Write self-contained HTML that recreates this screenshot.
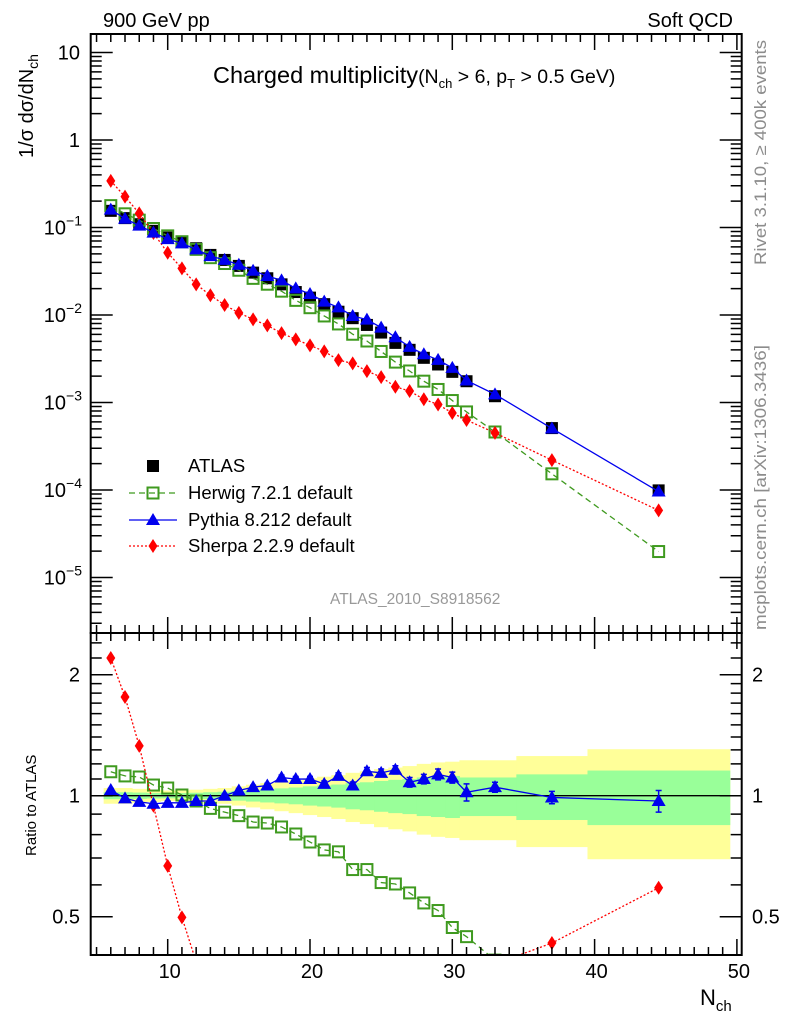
<!DOCTYPE html>
<html><head><meta charset="utf-8"><style>
html,body{margin:0;padding:0;background:#fff;width:786px;height:1024px;overflow:hidden}
svg{display:block;font-family:"Liberation Sans",sans-serif}
</style></head><body>
<svg id="chart" width="786" height="1024" viewBox="0 0 786 1024" xmlns="http://www.w3.org/2000/svg">
<defs>
<clipPath id="clipMain"><rect x="90.7" y="34" width="651" height="599"/></clipPath>
<clipPath id="clipRatio"><rect x="90.7" y="633" width="651" height="322"/></clipPath>
</defs>
<g id="bands" clip-path="url(#clipRatio)"></g>
<g id="marksMain" clip-path="url(#clipMain)"></g>
<g id="marksRatio" clip-path="url(#clipRatio)"></g>
<g id="axes"></g>
<text x="103" y="27" font-size="20">900 GeV pp</text>
<text x="733" y="27" font-size="20" text-anchor="end">Soft QCD</text>
<text x="213" y="83" font-size="23.5">Charged multiplicity<tspan font-size="19.5">(N</tspan><tspan font-size="13" dy="5">ch</tspan><tspan font-size="19.5" dy="-5"> &gt; 6, p</tspan><tspan font-size="13" dy="5">T</tspan><tspan font-size="19.5" dy="-5"> &gt; 0.5 GeV)</tspan></text>
<text transform="translate(33,158) rotate(-90)" font-size="20">1/σ dσ/dN<tspan font-size="14" dy="5">ch</tspan></text>
<text transform="translate(36,856) rotate(-90)" font-size="15">Ratio to ATLAS</text>
<text x="700" y="1005" font-size="22">N<tspan font-size="15" dy="6">ch</tspan></text>
<text transform="translate(766,265) rotate(-90)" font-size="17" fill="#8c8c8c" textLength="225" lengthAdjust="spacingAndGlyphs">Rivet 3.1.10, ≥ 400k events</text>
<text transform="translate(766,630) rotate(-90)" font-size="17" fill="#8c8c8c" textLength="285" lengthAdjust="spacingAndGlyphs">mcplots.cern.ch [arXiv:1306.3436]</text>
<text x="330" y="604" font-size="15.5" fill="#999">ATLAS_2010_S8918562</text>
<g id="legend"></g>
</svg>
<script>
const nch = [6,7,8,9,10,11,12,13,14,15,16,17,18,19,20,21,22,23,24,25,26,27,28,29,30,31,33,37,44.5];
const binLo = [5.5,6.5,7.5,8.5,9.5,10.5,11.5,12.5,13.5,14.5,15.5,16.5,17.5,18.5,19.5,20.5,21.5,22.5,23.5,24.5,25.5,26.5,27.5,28.5,29.5,30.5,31.5,34.5,39.5];
const binHi = [6.5,7.5,8.5,9.5,10.5,11.5,12.5,13.5,14.5,15.5,16.5,17.5,18.5,19.5,20.5,21.5,22.5,23.5,24.5,25.5,26.5,27.5,28.5,29.5,30.5,31.5,34.5,39.5,49.5];
const atlas = [0.155,0.128,0.109,0.0916,0.0768,0.0685,0.058,0.0486,0.0426,0.0364,0.0305,0.0263,0.0224,0.0183,0.0158,0.0133,0.0109,0.0092,0.0077,0.0063,0.0048,0.0040,0.00324,0.00272,0.00224,0.00175,0.00118,0.00051,0.000099];
const errTotal = [0.045,0.045,0.04,0.035,0.03,0.03,0.035,0.04,0.045,0.055,0.065,0.075,0.085,0.095,0.105,0.115,0.125,0.14,0.15,0.165,0.175,0.185,0.2,0.21,0.215,0.225,0.225,0.255,0.305];
const errStat = [0.02,0.02,0.018,0.016,0.015,0.015,0.017,0.02,0.023,0.028,0.033,0.038,0.043,0.048,0.055,0.06,0.066,0.075,0.08,0.088,0.095,0.1,0.11,0.115,0.12,0.11,0.11,0.13,0.155];
const herwigRatio = [1.147,1.12,1.113,1.063,1.045,1.004,0.97,0.93,0.91,0.892,0.86,0.855,0.836,0.803,0.767,0.733,0.725,0.655,0.655,0.608,0.603,0.573,0.541,0.518,0.47,0.446,0.39,0.3,0.2];
const pythiaRatio = [1.033,0.985,0.965,0.955,0.96,0.96,0.97,0.97,1.0,1.03,1.05,1.06,1.11,1.10,1.10,1.07,1.12,1.06,1.15,1.14,1.16,1.08,1.10,1.13,1.11,1.02,1.05,0.99,0.97];
const pythiaErr = [0.01,0.01,0.01,0.01,0.01,0.01,0.01,0.01,0.01,0.012,0.012,0.014,0.015,0.016,0.017,0.018,0.02,0.022,0.025,0.025,0.027,0.03,0.03,0.035,0.035,0.05,0.03,0.035,0.06];
const sherpaRatio = [2.2,1.76,1.33,0.944,0.669,0.498,0.386,0.346,0.305,0.291,0.292,0.289,0.277,0.288,0.285,0.289,0.28,0.304,0.297,0.31,0.315,0.338,0.336,0.349,0.339,0.36,0.381,0.43,0.59];
const yMainTicks = ["10","1","10^-1","10^-2","10^-3","10^-4","10^-5"];
const xTicks = [10,20,30,40,50];
const ratioTicks = [0.5,1,2];

const NS="http://www.w3.org/2000/svg";
function X(v){return 167.7+(v-10)*14.23;}
function YM(v){return 52.5-87.5*Math.log10(v/10);}
function YR(r){return 795.7-121*Math.log2(r);}
function mk(tag,attrs,parent){const e=document.createElementNS(NS,tag);for(const k in attrs)e.setAttribute(k,attrs[k]);parent.appendChild(e);return e;}
const bands=document.getElementById('bands'),gm=document.getElementById('marksMain'),gr=document.getElementById('marksRatio'),ax=document.getElementById('axes'),lg=document.getElementById('legend');

nch.forEach((n,i)=>{
  let r=mk('rect',{x:X(binLo[i]),y:YR(1+errTotal[i]),width:X(binHi[i])-X(binLo[i])+0.5,height:YR(1-errTotal[i])-YR(1+errTotal[i]),fill:'#ffff99'},bands);
  
  
});
nch.forEach((n,i)=>{
  let r=mk('rect',{x:X(binLo[i]),y:YR(1+errStat[i]),width:X(binHi[i])-X(binLo[i])+0.5,height:YR(1-errStat[i])-YR(1+errStat[i]),fill:'#99ff99'},bands);
  
  
});
let l1=mk('line',{x1:90.7,x2:741.7,y1:YR(1),y2:YR(1),stroke:'#000','stroke-width':1.3},gr);



function marker(type,cx,cy,color,parent,name){
  let e;
  if(type==='sq') e=mk('rect',{x:cx-6,y:cy-6,width:12,height:12,fill:'#000'},parent);
  else if(type==='osq') e=mk('rect',{x:cx-5.5,y:cy-5.5,width:11,height:11,fill:'none',stroke:color,'stroke-width':2},parent);
  else if(type==='tri') e=mk('polygon',{points:`${cx},${cy-7} ${cx+7},${cy+5} ${cx-7},${cy+5}`,fill:color},parent);
  else e=mk('polygon',{points:`${cx},${cy-7} ${cx+4.5},${cy} ${cx},${cy+7} ${cx-4.5},${cy}`,fill:color},parent);
  
  
  return e;
}
const series=[
 {name:'herwig',ratio:herwigRatio,color:'#3f9a1f',dash:'6,4',type:'osq',w:1.3},
 {name:'sherpa',ratio:sherpaRatio,color:'#ff0000',dash:'2,2',type:'dia',w:1.3},
 {name:'pythia',ratio:pythiaRatio,color:'#0000ee',dash:'',type:'tri',w:1.3}
];
nch.forEach((n,i)=>marker('sq',X(n),YM(atlas[i]),'#000',gm,'atlas-point'));
series.forEach(s=>{
  const pm=nch.map((n,i)=>X(n)+','+YM(atlas[i]*s.ratio[i])).join(' ');
  const pr=nch.map((n,i)=>X(n)+','+YR(s.ratio[i])).join(' ');
  let a=mk('polyline',{points:pm,fill:'none',stroke:s.color,'stroke-width':s.w,'stroke-dasharray':s.dash},gm);
  
  
  let b=mk('polyline',{points:pr,fill:'none',stroke:s.color,'stroke-width':s.w,'stroke-dasharray':s.dash},gr);
  
  
  nch.forEach((n,i)=>{
    marker(s.type,X(n),YM(atlas[i]*s.ratio[i]),s.color,gm,s.name+'-point');
    if(s.name==='pythia'){
      let eb=mk('path',{d:`M${X(n)},${YR(s.ratio[i]+pythiaErr[i])}V${YR(s.ratio[i]-pythiaErr[i])}M${X(n)-3},${YR(s.ratio[i]+pythiaErr[i])}h6M${X(n)-3},${YR(s.ratio[i]-pythiaErr[i])}h6`,stroke:s.color,'stroke-width':1.5,fill:'none'},gr);
      
      
    }
    marker(s.type,X(n),YR(s.ratio[i]),s.color,gr,s.name+'-ratio-point');
  });
});

[[34,633],[633,955]].forEach(([t,b])=>{
  let f=mk('rect',{x:90.7,y:t,width:651,height:b-t,fill:'none',stroke:'#000','stroke-width':2},ax);
  
  
});
let tk='';
for(let v=5;v<=50;v++){
  const x=X(v),L=(v%10===0)?16:8;
  tk+=`M${x},633v${-L}M${x},34v${L}M${x},955v${-L}M${x},633v${L}`;
}
for(let d=-6;d<=1;d++){for(let m=1;m<=9;m++){const v=m*Math.pow(10,d),y=YM(v);if(y<34||y>633)continue;const L=m===1?22:11;tk+=`M90.7,${y}h${L}M741.7,${y}h${-L}`;}}
[0.4,0.5,0.6,0.7,0.8,0.9,1,1.1,1.2,1.3,1.4,1.5,1.6,1.7,1.8,1.9,2,2.2,2.4].forEach(r=>{const y=YR(r);if(y<633||y>955)return;const L=(r===0.5||r===1||r===2)?22:11;tk+=`M90.7,${y}h${L}M741.7,${y}h${-L}`;});
let tp=mk('path',{d:tk,stroke:'#000','stroke-width':1.5,fill:'none'},ax);


xTicks.forEach(v=>{
  let t=mk('text',{x:X(v)+2,y:978,'font-size':20,'text-anchor':'middle'},ax);t.textContent=v;
  
  
});
yMainTicks.forEach((lab,i)=>{
  const y=YM(Math.pow(10,1-i));
  let t=mk('text',{x:80,y:y+7,'font-size':20,'text-anchor':'end'},ax);
  if(lab.indexOf('^')>0){const p=lab.split('^');
    t.appendChild(document.createTextNode(p[0]));
    const s=mk('tspan',{dy:-9,'font-size':14},t);s.textContent=p[1].replace('-','−');
    t.setAttribute('x',82);}
  else t.textContent=lab;
  
  
});
ratioTicks.forEach(r=>{
  [[80,'end'],[752,'start']].forEach(([x,a])=>{
    let t=mk('text',{x:x,y:YR(r)+7,'font-size':20,'text-anchor':a},ax);t.textContent=r;
    
    
  });
});
const legLabels=['ATLAS','Herwig 7.2.1 default','Pythia 8.212 default','Sherpa 2.2.9 default'];
const legY=[466,493,520,546];
legLabels.forEach((lab,i)=>{
  const y=legY[i];
  if(i>0){const s=series[[0,0,2,1][i]];
    let ln=mk('line',{x1:129,x2:177,y1:y,y2:y,stroke:s.color,'stroke-width':1.3,'stroke-dasharray':s.dash},lg);
    
    
    marker(s.type,153,y,s.color,lg,'legend-marker');}
  else marker('sq',153,y,'#000',lg,'legend-marker');
  let t=mk('text',{x:188,y:y+6,'font-size':18.5},lg);t.textContent=lab;
  
  
});
</script>
</body></html>
